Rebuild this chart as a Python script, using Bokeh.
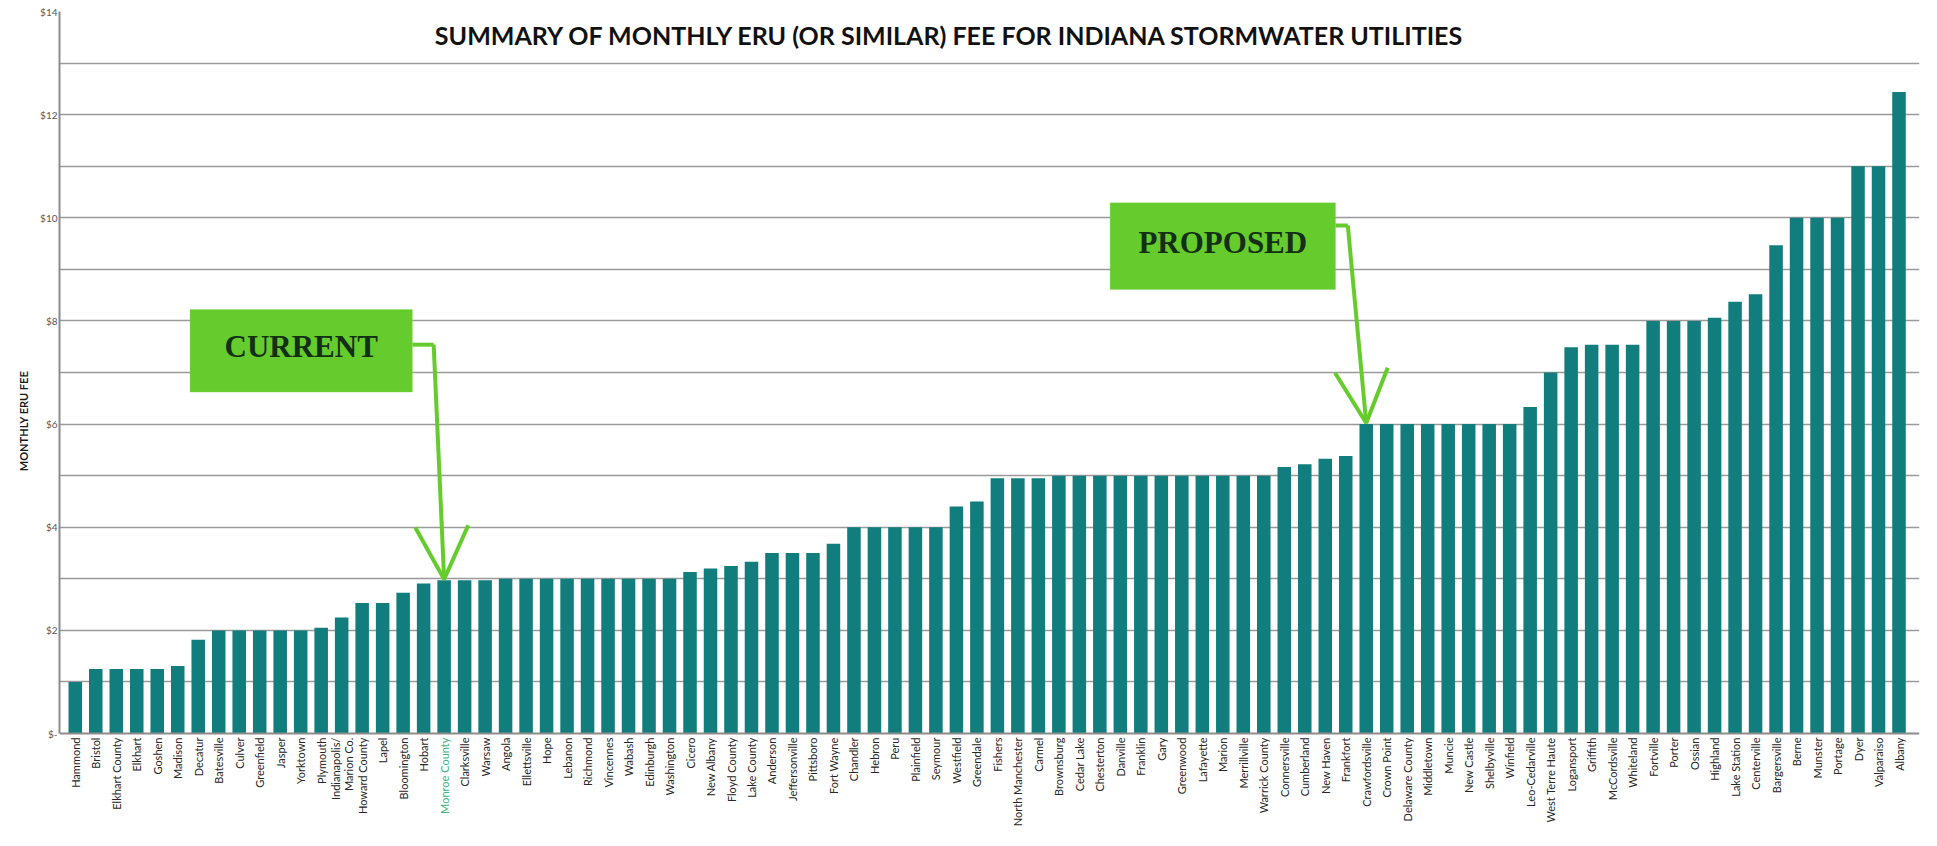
from math import pi
from bokeh.plotting import figure
from bokeh.models import (Range1d, FixedTicker, BoxAnnotation, Label, Arrow,
                          OpenHead, Span)
from bokeh.core.properties import value
from bokeh.embed import file_html
from bokeh.resources import INLINE

# ---------------- data ----------------
utilities = [
    "Hammond", "Bristol", "Elkhart County", "Elkhart", "Goshen", "Madison",
    "Decatur", "Batesville", "Culver", "Greenfield", "Jasper", "Yorktown",
    "Plymouth", "Indianapolis/Marion Co.", "Howard County", "Lapel",
    "Bloomington", "Hobart", "Monroe County", "Clarksville", "Warsaw",
    "Angola", "Ellettsville", "Hope", "Lebanon", "Richmond", "Vincennes",
    "Wabash", "Edinburgh", "Washington", "Cicero", "New Albany",
    "Floyd County", "Lake County", "Anderson", "Jeffersonville", "Pittsboro",
    "Fort Wayne", "Chandler", "Hebron", "Peru", "Plainfield", "Seymour",
    "Westfield", "Greendale", "Fishers", "North Manchester", "Carmel",
    "Brownsburg", "Cedar Lake", "Chesterton", "Danville", "Franklin", "Gary",
    "Greenwood", "Lafayette", "Marion", "Merrillville", "Warrick County",
    "Connersville", "Cumberland", "New Haven", "Frankfort", "Crawfordsville",
    "Crown Point", "Delaware County", "Middletown", "Muncie", "New Castle",
    "Shelbyville", "Winfield", "Leo-Cedarville", "West Terre Haute",
    "Logansport", "Griffith", "McCordsville", "Whiteland", "Fortville",
    "Porter", "Ossian", "Highland", "Lake Station", "Centerville",
    "Bargersville", "Berne", "Munster", "Portage", "Dyer", "Valparaiso",
    "Albany",
]
fees = [
    1.00, 1.25, 1.25, 1.25, 1.25, 1.31,
    1.82, 2.00, 2.00, 2.00, 2.00, 2.00,
    2.05, 2.25, 2.53, 2.53,
    2.73, 2.91, 2.97, 2.97, 2.97,
    3.00, 3.00, 3.00, 3.00, 3.00, 3.00,
    3.00, 3.00, 3.00, 3.13, 3.20,
    3.25, 3.33, 3.50, 3.50, 3.50,
    3.68, 4.00, 4.00, 4.00, 4.00, 4.00,
    4.40, 4.50, 4.95, 4.95, 4.95,
    5.00, 5.00, 5.00, 5.00, 5.00, 5.00,
    5.00, 5.00, 5.00, 5.00, 5.00,
    5.17, 5.22, 5.33, 5.38, 6.00,
    6.00, 6.00, 6.00, 6.00, 6.00,
    6.00, 6.00, 6.33, 7.00,
    7.49, 7.54, 7.54, 7.54, 8.00,
    8.00, 8.00, 8.06, 8.37, 8.52,
    9.47, 10.00, 10.00, 10.00, 11.00, 11.00,
    12.44,
]
highlighted = "Monroe County"
y_ticks = [0, 2, 4, 6, 8, 10, 12, 14]
y_tick_labels = ["$-", "$2", "$4", "$6", "$8", "$10", "$12", "$14"]
grid_values = [1, 2, 3, 4, 5, 6, 7, 8, 9, 10, 11, 12, 13, 14]
title_text = "SUMMARY OF MONTHLY ERU (OR SIMILAR) FEE FOR INDIANA STORMWATER UTILITIES"
y_title = "MONTHLY ERU FEE"
callout_texts = ["CURRENT", "PROPOSED"]
callout_targets = ["Monroe County", "Crawfordsville"]

# ---------------- styles ----------------
BAR = "#117d7d"
GREEN = "#66cc2e"
GRID = "#9a9a9a"
AXIS = "#8c8c8c"
SANS = "Lato"
LABEL_DARK = "#262626"
LABEL_HL = "#3db37a"

n = len(utilities)
idx = list(range(n))
label_colors = [LABEL_HL if u == highlighted else LABEL_DARK for u in utilities]
# very long names are wrapped after the slash so they fit under the axis
label_texts = [u.replace("/", "/\n") if len(u) > 20 else u for u in utilities]

# the frame reaches the bottom of the canvas; the room below $0 holds the names
p = figure(width=1921, height=830,
           x_range=Range1d(-0.77, n - 1 + 1.0), y_range=Range1d(-1.88, 14),
           output_backend="svg", toolbar_location=None,
           min_border_left=59, min_border_right=2, min_border_top=11,
           min_border_bottom=0)
p.outline_line_color = None
p.background_fill_color = "white"

p.vbar(x=idx, top=fees, width=0.66, fill_color=BAR, line_color=None)

# category names below the base line (drawn through the plot's x scale)
p.text(x=idx, y=[0] * n, text=label_texts, angle=pi / 2,
       text_align="right", text_baseline="middle", y_offset=4,
       text_font=value(SANS), text_font_size="11px", text_line_height=1.0,
       text_color=label_colors)

# x axis: only its base line is visible
p.xaxis.visible = False
p.xgrid.visible = False
p.add_layout(Span(location=0, dimension="width", line_color=AXIS, line_width=2))

# y axis
p.yaxis.ticker = FixedTicker(ticks=y_ticks)
p.yaxis.bounds = (0, 14)
p.yaxis.major_label_overrides = dict(zip(y_ticks, y_tick_labels))
p.yaxis.major_label_text_font = SANS
p.yaxis.major_label_text_font_size = "10px"
p.yaxis.major_label_text_color = "#595959"
p.yaxis.major_tick_line_color = None
p.yaxis.minor_tick_line_color = None
p.yaxis.major_tick_out = 0
p.yaxis.major_tick_in = 0
p.yaxis.minor_tick_out = 0
p.yaxis.major_label_standoff = 2
p.yaxis.axis_line_color = AXIS
p.yaxis.axis_line_width = 2
p.yaxis.axis_label = y_title
p.yaxis.axis_label_text_font = SANS
p.yaxis.axis_label_text_font_style = "bold"
p.yaxis.axis_label_text_font_size = "11px"
p.yaxis.axis_label_text_color = "#1a1a1a"
p.yaxis.axis_label_standoff = 7

p.ygrid.ticker = FixedTicker(ticks=grid_values)
p.ygrid.grid_line_color = GRID
p.ygrid.grid_line_width = 1.6

# title inside the frame
p.add_layout(Label(x=42.7, y=13.55, text=title_text, text_align="center",
                   text_baseline="middle", text_font=SANS,
                   text_font_style="bold", text_font_size="25px",
                   text_color="#111111"))

# callouts: (box left, box right, box bottom, box top, elbow x, elbow y) offsets
layouts = [(-12.4, -1.55, 3.65, 5.25, -0.51, 4.57),
           (-12.5, -1.5, 2.61, 4.29, -0.9, 3.85)]
for text, target, (l, r, b, t, ex, ey) in zip(callout_texts, callout_targets, layouts):
    i = utilities.index(target)
    v = fees[i]
    p.add_layout(BoxAnnotation(left=i + l, right=i + r, bottom=v + b, top=v + t,
                               fill_color=GREEN, fill_alpha=1.0,
                               line_color="#7fd84e", line_width=1))
    p.add_layout(Label(x=i + (l + r) / 2, y=v + (b + t) / 2 + 0.08, text=text,
                       text_align="center", text_baseline="middle",
                       text_font="Liberation Serif", text_font_style="bold",
                       text_font_size="31px", text_color="#143014"))
    p.add_layout(Arrow(x_start=i + r, y_start=v + ey, x_end=i + ex, y_end=v + ey,
                       end=None, line_color=GREEN, line_width=4))
    p.add_layout(Arrow(x_start=i + ex, y_start=v + ey, x_end=i, y_end=v + 0.02,
                       end=OpenHead(size=53, line_color=GREEN, line_width=4),
                       line_color=GREEN, line_width=4))

open("out.html", "w").write(file_html(p, INLINE))
